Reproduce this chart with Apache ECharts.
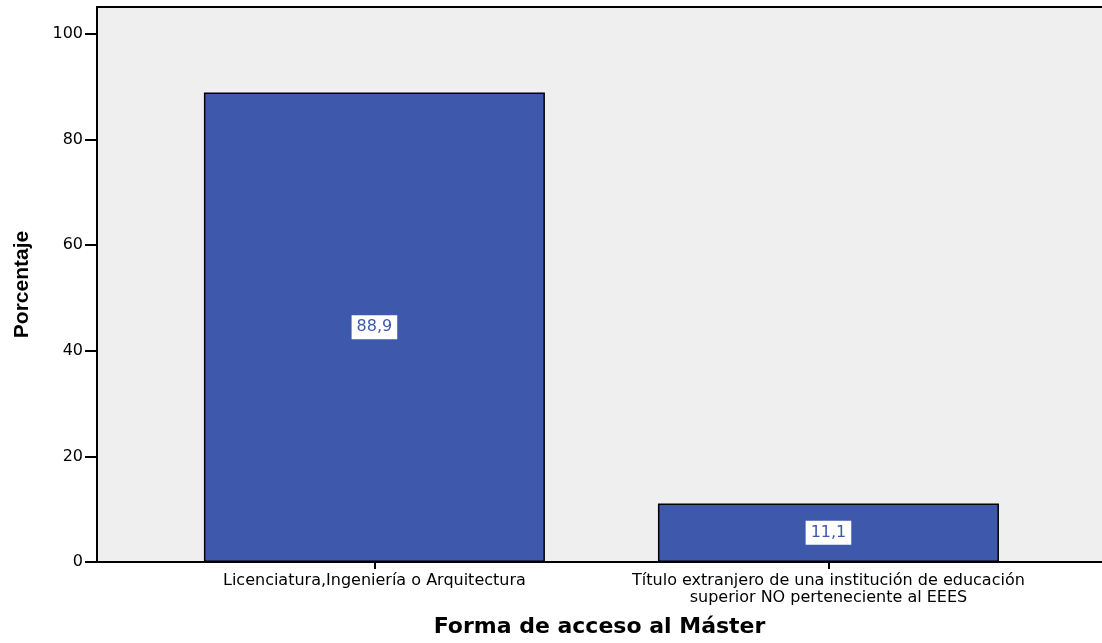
<!DOCTYPE html>
<html>
<head>
<meta charset="utf-8">
<script src="https://cdn.jsdelivr.net/npm/echarts@6/dist/echarts.min.js"></script>
<style>html,body{margin:0;padding:0;background:#fff;}#c{width:1102px;height:643px;}</style>
</head>
<body>
<div id="c"></div>
<script>
const categories = ["Licenciatura,Ingeniería o Arquitectura", "Título extranjero de una institución de educación\nsuperior NO perteneciente al EEES"];
const percentages = [88.9, 11.1];
const yTicks = [0, 20, 40, 60, 80, 100];

const chart = echarts.init(document.getElementById('c'));
const font = 'DejaVu Sans, Arial, sans-serif';
chart.setOption({
  animation: false,
  grid: {left: 97, top: 7, right: 0, bottom: 79, show: true, backgroundColor: '#efefef', borderWidth: 0},
  xAxis: [{
    type: 'value', min: -0.611, max: 1.6025,
    name: 'Forma de acceso al Máster', nameLocation: 'middle', nameGap: 54,
    nameTextStyle: {fontFamily: font, fontWeight: 'bold', fontSize: 22, color: '#000'},
    axisLine: {show: true, onZero: false, lineStyle: {color: '#000', width: 2}},
    axisTick: {show: true, customValues: [0, 1], length: 7, lineStyle: {color: '#000', width: 2}},
    axisLabel: {customValues: [0, 1], margin: 10, fontFamily: font, fontSize: 16, color: '#000', lineHeight: 17,
      formatter: v => categories[Math.round(v)] || ''},
    splitLine: {show: false}
  }, {
    type: 'value', position: 'top', min: -0.611, max: 1.6025,
    axisLine: {show: true, onZero: false, lineStyle: {color: '#000', width: 2}},
    axisTick: {show: false}, axisLabel: {show: false}, splitLine: {show: false}
  }],
  yAxis: {
    type: 'value', min: 0, max: 105.1,
    name: 'Porcentaje', nameLocation: 'middle', nameGap: 64,
    nameTextStyle: {fontFamily: 'Liberation Sans Narrow, Arial Narrow, Arial, sans-serif', fontWeight: 'bold', fontSize: 21, color: '#000'},
    axisLine: {show: true, onZero: false, lineStyle: {color: '#000', width: 2}},
    axisTick: {show: true, customValues: yTicks, length: 12, lineStyle: {color: '#000', width: 2}},
    axisLabel: {customValues: yTicks, margin: 14, fontFamily: font, fontSize: 16, color: '#000'},
    splitLine: {show: false}
  },
  series: [{
    type: 'bar',
    xAxisIndex: 0,
    data: percentages.map((v, i) => [i, v]),
    barWidth: 341,
    itemStyle: {color: '#3e59ab', borderColor: '#000', borderWidth: 1.5},
    label: {show: true, position: 'inside', backgroundColor: '#fff', color: '#3e59ab', padding: [4, 5],
      fontFamily: font, fontSize: 16, formatter: p => String(p.value[1]).replace('.', ',')}
  }]
});
</script>
</body>
</html>
